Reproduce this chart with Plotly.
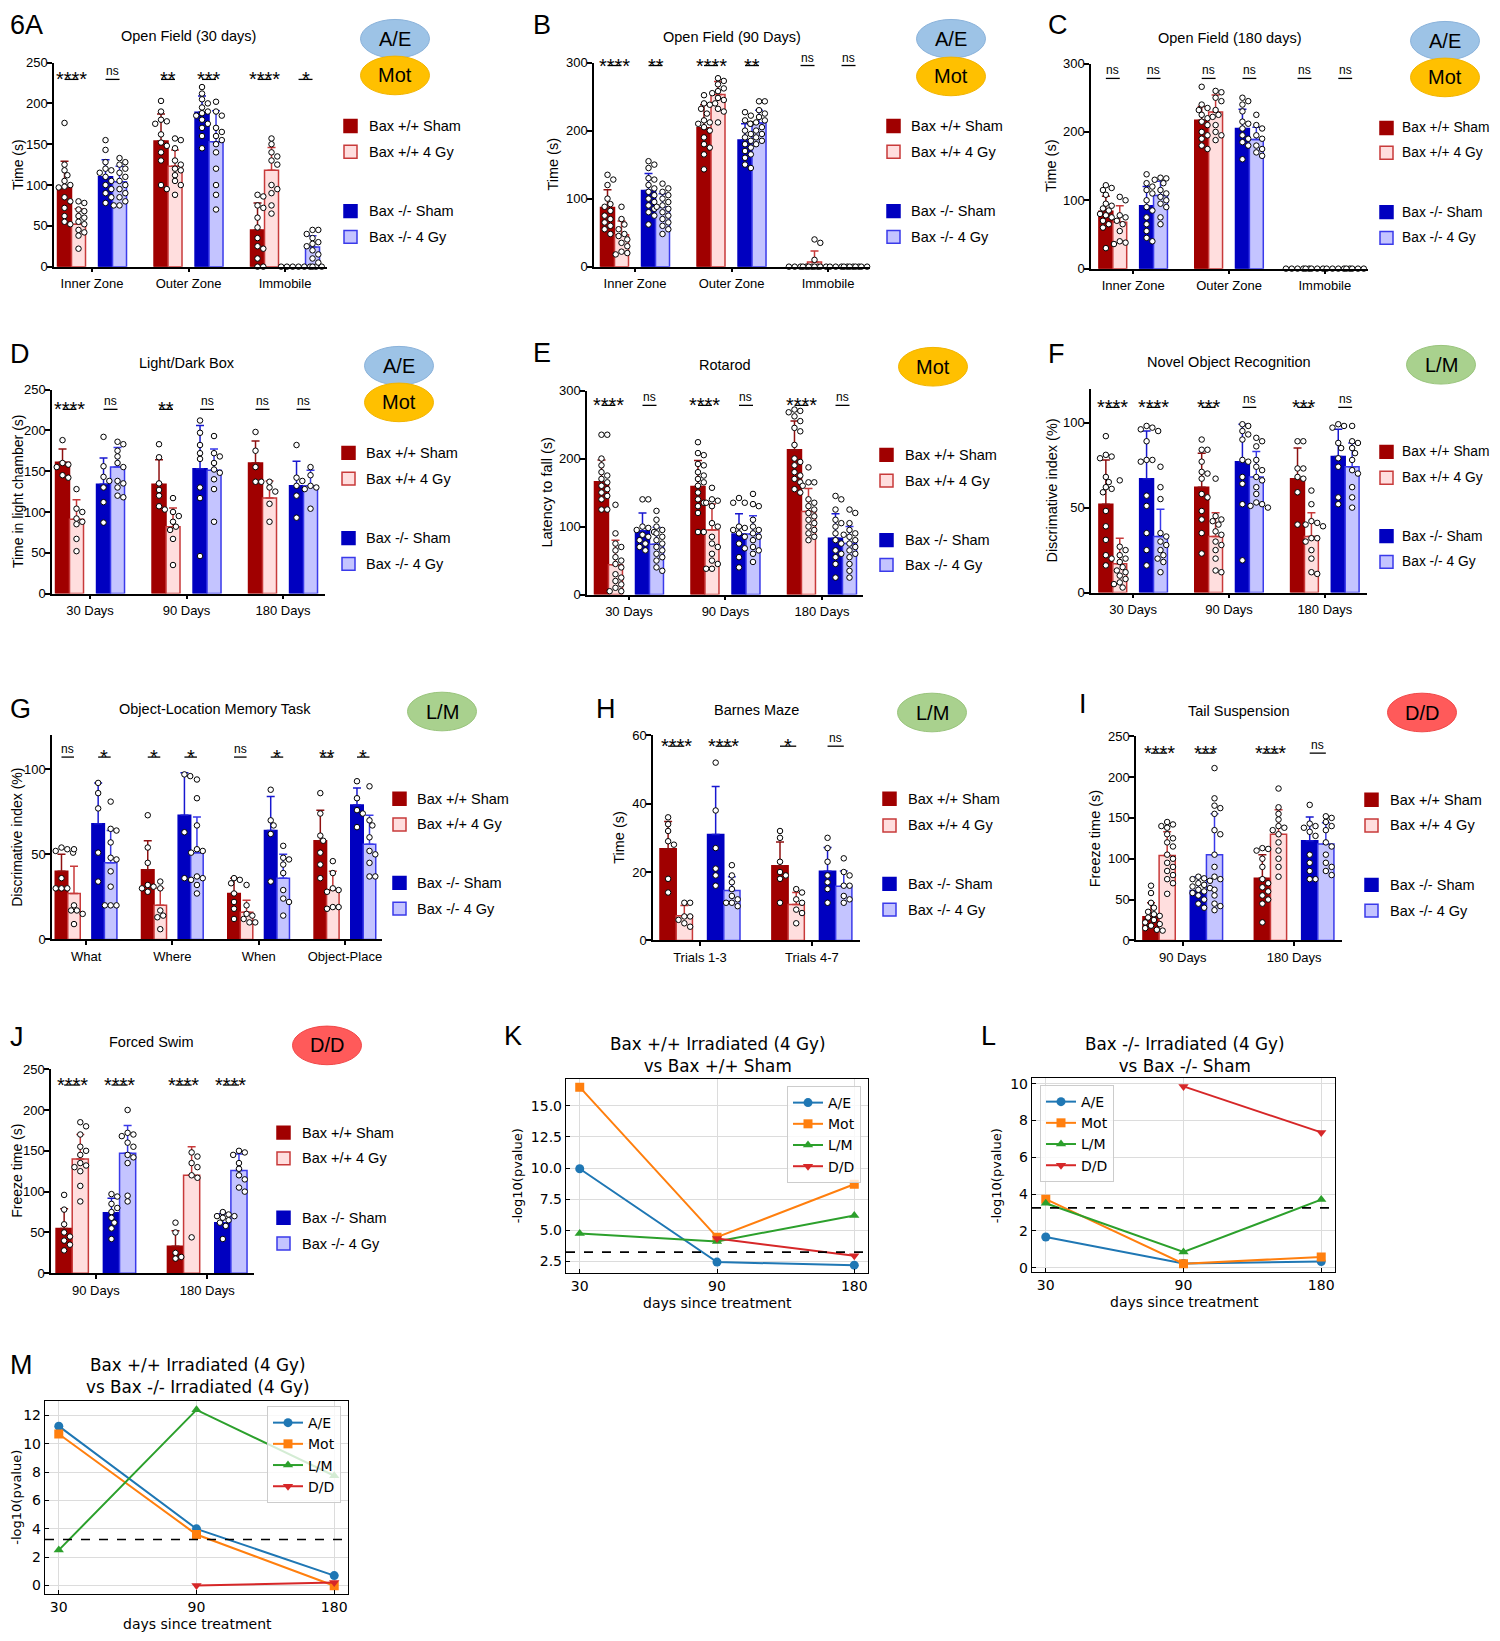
import plotly.graph_objects as go

# Reference canvas is 1500x1641; the page body keeps its default 8px margin,
# so the figure itself is 16px smaller and every position is shifted by 8px.
W, H = 1500, 1641
OX, OY = 8, 8
FW, FH = W - 2 * OX, H - 2 * OY
ARIAL = "Liberation Sans, Arial, sans-serif"
DEJAVU = "DejaVu Sans, sans-serif"

# ---------------- DATA ----------------
SERIES = ["Bax +/+ Sham", "Bax +/+ 4 Gy", "Bax -/- Sham", "Bax -/- 4 Gy"]

# A: Open Field (30 days)
A_groups = ["Inner Zone", "Outer Zone", "Immobile"]
A_wt_sham = [97, 154, 45]
A_wt_4gy = [52, 123, 118]
A_ko_sham = [110, 189, 0]
A_ko_4gy = [104, 153, 24]
A_wt_sham_sd = [32, 33, 33]
A_wt_4gy_sd = [19, 20, 28]
A_ko_sham_sd = [21, 20, 0]
A_ko_4gy_sd = [19, 38, 14]
A_wt_sham_pts = [[176, 125, 118, 112, 105, 100, 98, 97, 85, 80, 72, 62, 55, 52],
                 [203, 190, 180, 178, 175, 162, 152, 148, 140, 130, 100, 95],
                 [88, 86, 75, 72, 60, 48, 35, 25, 22, 10, 0, 0]]
A_wt_4gy_pts = [[80, 78, 70, 68, 62, 60, 55, 52, 45, 42, 38, 22],
                [157, 155, 145, 130, 125, 120, 118, 112, 105, 100, 88],
                [157, 150, 140, 135, 130, 125, 100, 95, 90, 75, 65]]
A_ko_sham_pts = [[155, 143, 128, 120, 118, 115, 110, 105, 100, 95, 90, 85, 78],
                 [220, 212, 205, 200, 195, 190, 188, 185, 180, 175, 170, 160, 145],
                 [0, 0, 0, 0, 0, 0, 0, 0]]
A_ko_4gy_pts = [[133, 128, 125, 120, 115, 110, 105, 100, 95, 90, 85, 80, 75, 75],
                [202, 190, 185, 170, 165, 160, 155, 150, 140, 120, 100, 88, 70],
                [45, 45, 40, 35, 30, 28, 25, 20, 15, 10, 5, 0]]
A_sig = ["****", "ns", "**", "***", "****", "*"]

# B: Open Field (90 Days)
B_groups = ["Inner Zone", "Outer Zone", "Immobile"]
B_wt_sham = [87, 204, 0]
B_wt_4gy = [47, 253, 7]
B_ko_sham = [112, 186, 0]
B_ko_4gy = [88, 211, 0]
B_wt_sham_sd = [26, 34, 0]
B_wt_4gy_sd = [20, 19, 16]
B_ko_sham_sd = [25, 24, 0]
B_ko_4gy_sd = [19, 19, 0]
B_wt_sham_pts = [[135, 128, 120, 100, 92, 88, 82, 75, 70, 65, 60, 55, 48],
                 [252, 240, 238, 232, 225, 215, 212, 210, 205, 200, 190, 180, 175, 165, 143],
                 [0, 0, 0, 0, 0, 0]]
B_wt_4gy_pts = [[88, 70, 62, 55, 48, 45, 40, 35, 30, 22, 20, 18],
                [277, 273, 268, 262, 258, 255, 248, 245, 240, 232, 228, 212],
                [40, 35, 10, 0, 0, 0, 0, 0]]
B_ko_sham_pts = [[155, 150, 145, 130, 128, 120, 115, 110, 105, 100, 95, 90, 85, 80, 75, 62],
                 [227, 222, 215, 210, 200, 195, 190, 185, 180, 175, 170, 165, 160, 150, 145],
                 [0, 0, 0, 0, 0, 0]]
B_ko_4gy_pts = [[122, 115, 110, 105, 100, 95, 90, 88, 85, 80, 75, 70, 65, 60, 55, 48],
                [243, 243, 230, 225, 220, 215, 212, 210, 205, 200, 195, 190, 185, 180],
                [0, 0, 0, 0, 0, 0]]
B_sig = ["****", "**", "****", "**", "ns", "ns"]

# C: Open Field (180 days)
C_groups = ["Inner Zone", "Outer Zone", "Immobile"]
C_wt_sham = [84, 217, 0]
C_wt_4gy = [68, 229, 0]
C_ko_sham = [92, 205, 0]
C_ko_4gy = [107, 189, 0]
C_wt_sham_sd = [22, 20, 0]
C_wt_4gy_sd = [24, 25, 0]
C_ko_sham_sd = [28, 28, 0]
C_ko_4gy_sd = [21, 18, 0]
C_wt_sham_pts = [[122, 118, 115, 108, 95, 92, 88, 85, 80, 78, 75, 70, 65, 60, 30],
                 [266, 240, 235, 232, 225, 220, 215, 210, 200, 195, 190, 180, 175],
                 [0, 0, 0, 0, 0]]
C_wt_4gy_pts = [[105, 100, 78, 75, 70, 65, 55, 40, 38, 36],
                [260, 258, 250, 245, 232, 225, 222, 210, 200, 195, 188],
                [0, 0, 0, 0]]
C_ko_sham_pts = [[138, 125, 120, 115, 110, 100, 90, 85, 75, 65, 55, 45, 40],
                 [250, 245, 240, 230, 215, 212, 205, 195, 190, 185, 180, 160],
                 [0, 0, 0, 0, 0]]
C_ko_4gy_pts = [[133, 132, 130, 125, 115, 110, 105, 100, 95, 90, 75, 65],
                [225, 210, 205, 195, 190, 180, 175, 170, 165],
                [0, 0, 0, 0]]
C_sig = ["ns", "ns", "ns", "ns", "ns", "ns"]

# D: Light/Dark Box
D_groups = ["30 Days", "90 Days", "180 Days"]
D_wt_sham = [161, 134, 160]
D_wt_4gy = [91, 82, 117]
D_ko_sham = [134, 153, 132]
D_ko_4gy = [155, 151, 132]
D_wt_sham_sd = [16, 30, 27]
D_wt_4gy_sd = [24, 23, 21]
D_ko_sham_sd = [32, 53, 30]
D_ko_4gy_sd = [24, 26, 19]
D_wt_sham_pts = [[188, 160, 158, 155, 145, 142], [183, 167, 135, 127, 120, 107, 103], [198, 175, 155, 137, 137]]
D_wt_4gy_pts = [[128, 104, 100, 92, 88, 85, 67, 52], [117, 100, 95, 88, 82, 78, 67, 35], [137, 130, 125, 110, 88]]
D_ko_sham_pts = [[192, 156, 143, 138, 130, 112, 87], [212, 197, 182, 172, 165, 130, 117, 46], [182, 142, 138, 132, 120, 93]]
D_ko_4gy_pts = [[186, 183, 175, 168, 160, 155, 138, 135, 130, 120, 118],
                [193, 172, 168, 160, 152, 148, 140, 128, 88], [155, 145, 132, 130, 128, 104]]
D_sig = ["****", "ns", "**", "ns", "ns", "ns"]

# E: Rotarod
E_groups = ["30 Days", "90 Days", "180 Days"]
E_wt_sham = [166, 159, 213]
E_wt_4gy = [44, 95, 122]
E_ko_sham = [94, 89, 83]
E_ko_4gy = [74, 89, 75]
E_wt_sham_sd = [32, 38, 42]
E_wt_4gy_sd = [36, 38, 34]
E_ko_sham_sd = [26, 30, 36]
E_ko_4gy_sd = [25, 27, 25]
E_wt_sham_pts = [[235, 235, 200, 190, 180, 175, 170, 165, 160, 155, 150, 145, 140, 125, 125],
                 [224, 208, 205, 192, 190, 180, 175, 170, 165, 160, 150, 140, 135, 130, 120, 92, 92],
                 [272, 270, 268, 262, 255, 245, 240, 220, 200, 195, 190, 180, 175, 170, 165, 155, 150]]
E_wt_4gy_pts = [[132, 90, 75, 70, 65, 55, 50, 45, 40, 30, 25, 20, 15, 10, 5, 5],
                [157, 140, 138, 135, 130, 105, 100, 85, 75, 70, 60, 50, 45, 38, 38],
                [187, 165, 165, 160, 140, 135, 130, 125, 120, 115, 110, 105, 100, 95, 90, 85, 80]]
E_ko_sham_pts = [[140, 140, 100, 98, 95, 92, 88, 85, 80, 75, 70, 65],
                 [142, 135, 135, 100, 98, 95, 90, 85, 75, 68, 55, 40],
                 [145, 140, 125, 110, 105, 100, 90, 80, 75, 65, 60, 55, 45, 25]]
E_ko_4gy_pts = [[123, 110, 100, 95, 90, 85, 80, 75, 70, 65, 60, 55, 50, 40, 35],
                [148, 133, 130, 110, 100, 95, 90, 85, 80, 70, 65, 60, 48],
                [125, 120, 105, 95, 90, 88, 85, 80, 75, 70, 65, 60, 55, 45, 35, 25]]
E_sig = ["****", "ns", "****", "ns", "****", "ns"]

# F: Novel Object Recognition
F_groups = ["30 Days", "90 Days", "180 Days"]
F_wt_sham = [52, 62, 67]
F_wt_4gy = [17, 33, 33]
F_ko_sham = [67, 77, 80]
F_ko_4gy = [33, 68, 74]
F_wt_sham_sd = [26, 20, 18]
F_wt_4gy_sd = [15, 14, 14]
F_ko_sham_sd = [28, 22, 16]
F_ko_4gy_sd = [16, 15, 14]
F_wt_sham_pts = [[92, 81, 80, 79, 68, 65, 62, 61, 59, 48, 39, 31, 22, 20, 16],
                 [90, 84, 84, 77, 71, 70, 67, 58, 56, 48, 43, 35, 23],
                 [89, 89, 73, 73, 68, 67, 59, 40]]
F_wt_4gy_pts = [[66, 27, 25, 22, 20, 18, 15, 13, 12, 10, 8, 6, 5, 3],
                [67, 45, 43, 42, 40, 36, 34, 30, 28, 25, 20, 13, 12],
                [60, 52, 42, 41, 40, 39, 32, 32, 30, 25, 20, 12, 11]]
F_ko_sham_pts = [[98, 97, 96, 95, 89, 78, 78, 77, 57, 51, 35, 25, 16],
                 [99, 98, 95, 93, 90, 78, 77, 68, 64, 52, 19],
                 [99, 98, 97, 88, 85, 79, 74, 56, 52]]
F_ko_4gy_pts = [[74, 62, 55, 35, 33, 30, 28, 25, 22, 20, 18, 12],
                [91, 89, 86, 78, 74, 72, 68, 66, 62, 58, 53, 52, 51, 50],
                [98, 89, 88, 85, 82, 78, 72, 70, 62, 56, 50]]
F_sig = ["****", "****", "***", "ns", "***", "ns"]

# G: Object-Location Memory Task
G_groups = ["What", "Where", "When", "Object-Place"]
G_wt_sham = [40, 41, 27, 58]
G_wt_4gy = [27, 20, 16, 29]
G_ko_sham = [68, 73, 64, 79]
G_ko_4gy = [45, 51, 36, 56]
G_wt_sham_sd = [10, 17, 9, 18]
G_wt_4gy_sd = [16, 10, 7, 11]
G_ko_sham_sd = [24, 25, 20, 10]
G_ko_4gy_sd = [19, 21, 14, 17]
G_wt_sham_pts = [[54, 53, 52, 51, 51, 36, 30, 30, 30], [73, 54, 45, 32, 31, 30, 28],
                 [36, 35, 33, 27, 22, 18, 12], [86, 74, 61, 58, 51, 44, 36]]
G_wt_4gy_pts = [[53, 20, 17, 17, 15, 9], [34, 30, 17, 14, 13, 6],
                [32, 20, 15, 14, 12, 10, 10], [46, 39, 30, 29, 28, 19, 19, 18]]
G_ko_sham_pts = [[92, 86, 77, 51, 34], [97, 96, 63, 36], [88, 70, 67, 62, 34], [93, 83, 76, 74, 66]]
G_ko_4gy_pts = [[81, 65, 64, 57, 48, 47, 40, 31, 20, 20, 20], [94, 83, 67, 53, 52, 51, 37, 36, 35, 32, 27],
                [55, 48, 47, 44, 39, 29, 24, 22, 14], [90, 70, 67, 60, 52, 50, 45, 37, 37]]
G_sig = ["ns", "*", "*", "*", "ns", "*", "**", "*"]

# H: Barnes Maze
H_groups = ["Trials 1-3", "Trials 4-7"]
H_wt_sham = [26.8, 21.8]
H_wt_4gy = [7.2, 10.5]
H_ko_sham = [31, 20.2]
H_ko_4gy = [14.6, 15.8]
H_wt_sham_sd = [8, 7]
H_wt_4gy_sd = [3, 3.5]
H_ko_sham_sd = [14, 7]
H_ko_4gy_sd = [4, 4.5]
H_wt_sham_pts = [[36, 34, 32, 29, 28, 18, 14], [32, 30, 23, 20, 19, 18, 11]]
H_wt_4gy_pts = [[11, 11, 7, 7, 6, 5, 4], [15, 14, 12, 11, 9, 8, 5]]
H_ko_sham_pts = [[52, 38, 27, 21, 19, 16], [30, 27, 23, 19, 17, 15, 11]]
H_ko_4gy_pts = [[22, 19, 17, 15, 13, 12, 11, 11, 10], [24, 20, 19, 16, 16, 13, 12, 11]]
H_sig = ["****", "****", "*", "ns"]

# I: Tail Suspension
I_groups = ["90 Days", "180 Days"]
I_wt_sham = [29, 76]
I_wt_4gy = [104, 130]
I_ko_sham = [61, 122]
I_ko_4gy = [105, 118]
I_wt_sham_sd = [17, 29]
I_wt_4gy_sd = [29, 30]
I_ko_sham_sd = [17, 29]
I_ko_4gy_sd = [50, 26]
I_wt_sham_pts = [[67, 58, 46, 40, 35, 32, 30, 28, 25, 22, 20, 18, 15, 13, 12],
                 [113, 112, 110, 100, 90, 75, 70, 65, 60, 55, 50, 45, 22]]
I_wt_4gy_pts = [[145, 142, 140, 138, 130, 125, 120, 115, 105, 100, 95, 90, 85, 80, 75, 70, 57],
                [186, 163, 155, 148, 140, 138, 135, 130, 120, 110, 100, 90, 78]]
I_ko_sham_pts = [[78, 76, 75, 73, 70, 68, 66, 64, 62, 60, 58, 55, 50, 45, 40],
                 [166, 143, 140, 138, 133, 128, 105, 95, 85, 75, 75]]
I_ko_4gy_pts = [[211, 174, 165, 162, 155, 135, 130, 105, 90, 78, 75, 62, 55, 45, 42, 37],
                [152, 150, 145, 140, 135, 120, 115, 105, 95, 90, 85, 80]]
I_sig = ["****", "***", "****", "ns"]

# J: Forced Swim
J_groups = ["90 Days", "180 Days"]
J_wt_sham = [55, 33]
J_wt_4gy = [140, 120]
J_ko_sham = [74, 62]
J_ko_4gy = [147, 126]
J_wt_sham_sd = [24, 19]
J_wt_4gy_sd = [30, 35]
J_ko_sham_sd = [18, 11]
J_ko_4gy_sd = [34, 20]
J_wt_sham_pts = [[96, 78, 60, 50, 45, 40, 35, 28], [62, 50, 25, 20, 18]]
J_wt_4gy_pts = [[185, 180, 170, 155, 150, 145, 135, 132, 130, 125, 107, 88], [148, 143, 135, 130, 120, 117, 44]]
J_ko_sham_pts = [[97, 94, 85, 80, 75, 68, 62, 55, 42], [75, 72, 70, 70, 68, 65, 62, 58, 42]]
J_ko_4gy_pts = [[200, 172, 170, 168, 160, 155, 145, 142, 135, 95, 88], [150, 148, 145, 135, 128, 120, 115, 105, 100]]
J_sig = ["****", "****", "****", "****"]

# K, L, M: -log10(pvalue) summaries
DAYS = ["30", "90", "180"]
CATS = ["A/E", "Mot", "L/M", "D/D"]
K_ae = [9.95, 2.45, 2.2]
K_mot = [16.5, 4.45, 8.7]
K_lm = [4.75, 4.1, 6.2]
K_dd = [None, 4.35, 2.95]
L_ae = [1.67, 0.23, 0.33]
L_mot = [3.72, 0.22, 0.58]
L_lm = [3.5, 0.85, 3.7]
L_dd = [None, 9.85, 7.35]
M_ae = [11.25, 4.0, 0.7]
M_mot = [10.7, 3.6, -0.02]
M_lm = [2.5, 12.4, 7.75]
M_dd = [None, 0.0, 0.22]
SIG_THRESHOLD = 3.25

# ---------------- STYLE ----------------
FILL = ["#A00000", "#FFDEDE", "#0000C0", "#C4C4FF"]
EDGE = ["#A00000", "#C83A3A", "#0000C0", "#3A3AEA"]
ERRC = ["#8E1010", "#C83A3A", "#1818D0", "#3A3AEA"]
OFFS = [-0.285, -0.14, 0.14, 0.285]
BW = 0.145
TAG_COLORS = {"A/E": ("#9DC3E6", "#8AB2DA"), "Mot": ("#FFC000", "#F2B400"),
              "L/M": ("#A9D18E", "#99C47C"), "D/D": ("#FF5A5A", "#F04848")}
LINE_COLORS = ["#1f77b4", "#ff7f0e", "#2ca02c", "#d62728"]
SYMBOLS = ["circle", "square", "triangle-up", "triangle-down"]

fig = go.Figure()
layout = {}
shapes = []
annots = []
axis_n = [0]


def px(p):
    return (p - OX) / FW


def py(p):
    return 1 - (p - OY) / FH


def new_axes(box):
    axis_n[0] += 1
    n = axis_n[0]
    s = "" if n == 1 else str(n)
    x0, y0, x1, y1 = box
    return ("xaxis" + s, "yaxis" + s, "x" + s, "y" + s,
            [px(x0), px(x1)], [py(y1), py(y0)])


def swarm(vals, pxu_y, d=5.8):
    placed = []
    offs = [0.0] * len(vals)
    order = sorted(range(len(vals)), key=lambda i: -vals[i])
    cands = [0.0]
    for j in range(1, 40):
        cands += [j * d * 0.5, -j * d * 0.5]
    for i in order:
        yv = vals[i] * pxu_y
        for c in cands:
            if all((c - a) ** 2 + (yv - b) ** 2 >= (d * 0.97) ** 2 for a, b in placed):
                offs[i] = c
                placed.append((c, yv))
                break
    return offs


def text(x, y, t, size, family=ARIAL, xanchor="center", yanchor="middle", angle=0, **kw):
    annots.append(dict(x=px(x), y=py(y), xref="paper", yref="paper", text=t, showarrow=False,
                       xanchor=xanchor, yanchor=yanchor, textangle=angle,
                       font=dict(family=family, size=size, color="black"), **kw))


def bar_panel(groups, means, sds, pts, sig, box, xrange, yrange, yticks, title, title_xy,
              ylabel, ylabel_x, letter, letter_xy, sig_px, leg, tags, leg_font=14.5, ylab_font=14.5):
    xa, ya, xr, yr, xd, yd = new_axes(box)
    ng = len(groups)
    layout[xa] = dict(domain=xd, range=xrange, anchor=yr, showline=True, linecolor="black",
                      linewidth=1.5, ticks="outside", ticklen=4, tickwidth=1.5, tickcolor="black",
                      tickvals=list(range(ng)), ticktext=groups, showgrid=False, zeroline=False,
                      tickfont=dict(family=ARIAL, size=13, color="black"))
    layout[ya] = dict(domain=yd, range=yrange, anchor=xr, showline=True, linecolor="black",
                      linewidth=1.5, ticks="outside", ticklen=5, tickwidth=1.5, tickcolor="black",
                      tickvals=yticks, showgrid=False, zeroline=False, ticklabelstandoff=-3,
                      tickfont=dict(family=ARIAL, size=13, color="black"))
    x0, y0, x1, y1 = box
    pxu_x = (x1 - x0) / (xrange[1] - xrange[0])
    pxu_y = (y1 - y0) / (yrange[1] - yrange[0])
    for s in range(4):
        fig.add_trace(go.Bar(
            x=[g + OFFS[s] for g in range(ng)], y=means[s], width=BW, xaxis=xr, yaxis=yr,
            marker=dict(color=FILL[s], line=dict(color=EDGE[s], width=1.5)),
            error_y=dict(type="data", symmetric=False, array=sds[s], arrayminus=[0] * ng,
                         color=ERRC[s], thickness=1.5, width=4),
            showlegend=False, hoverinfo="skip", name=SERIES[s]))
    for s in range(4):
        xs, ys = [], []
        for g, vals in enumerate(pts[s]):
            offs = swarm(vals, pxu_y)
            xs += [g + OFFS[s] + o / pxu_x for o in offs]
            ys += list(vals)
        fig.add_trace(go.Scatter(
            x=xs, y=ys, mode="markers", xaxis=xr, yaxis=yr, cliponaxis=False,
            marker=dict(size=5.5, color="white", line=dict(color="black", width=1)),
            showlegend=False, hoverinfo="skip"))
    # significance
    for g in range(ng):
        for p, (a, b) in enumerate([(0, 1), (2, 3)]):
            lab = sig[2 * g + p]
            xa_, xb_ = g + OFFS[a], g + OFFS[b]
            shapes.append(dict(type="line", xref=xr, yref="paper", x0=xa_, x1=xb_,
                               y0=py(sig_px), y1=py(sig_px), line=dict(color="black", width=1.3)))
            star = lab != "ns"
            annots.append(dict(x=(xa_ + xb_) / 2, y=py(sig_px), xref=xr, yref="paper", text=lab,
                               showarrow=False, xanchor="center", yanchor="bottom",
                               yshift=-13 if star else -1,
                               font=dict(family=ARIAL, size=20 if star else 12, color="black")))
    text(title_xy[0], title_xy[1], title, 14.5)
    text(ylabel_x, (y0 + y1) / 2, ylabel, ylab_font, angle=-90)
    text(letter_xy[0], letter_xy[1], letter, 27, xanchor="left")
    sqx, tx, lys = leg
    for s in range(4):
        shapes.append(dict(type="rect", xref="paper", yref="paper", x0=px(sqx), x1=px(sqx + 13),
                           y0=py(lys[s] + 6.5), y1=py(lys[s] - 6.5), fillcolor=FILL[s],
                           line=dict(color=EDGE[s], width=1.5)))
        text(tx, lys[s], SERIES[s], leg_font, xanchor="left")
    for name, cx, cy in tags:
        f, e = TAG_COLORS[name]
        shapes.append(dict(type="circle", xref="paper", yref="paper", x0=px(cx - 34.5),
                           x1=px(cx + 34.5), y0=py(cy + 19.5), y1=py(cy - 19.5), fillcolor=f,
                           line=dict(color=e, width=1)))
        text(cx, cy, name, 20)


def line_panel(series, box, yrange, yticks, ytext, title, title_xy, xlabel_xy, ylabel_x,
               letter, letter_xy, legend_name, legend_cfg):
    xa, ya, xr, yr, xd, yd = new_axes(box)
    common = dict(showline=True, mirror=True, linecolor="black", linewidth=1.4, ticks="inside",
                  ticklen=4, tickwidth=1.2, tickcolor="black", showgrid=True, gridcolor="#dcdcdc",
                  gridwidth=1.2, zeroline=False, tickfont=dict(family=DEJAVU, size=14, color="black"))
    layout[xa] = dict(domain=xd, range=[-0.1, len(DAYS) - 0.9], anchor=yr,
                      tickvals=list(range(len(DAYS))), ticktext=DAYS, **common)
    layout[ya] = dict(domain=yd, range=yrange, anchor=xr, tickvals=yticks, ticktext=ytext, **common)
    for i, vals in enumerate(series):
        fig.add_trace(go.Scatter(
            x=list(range(len(DAYS))), y=vals, mode="lines+markers", name=CATS[i],
            xaxis=xr, yaxis=yr, legend=legend_name, connectgaps=False,
            line=dict(color=LINE_COLORS[i], width=2),
            marker=dict(symbol=SYMBOLS[i], size=9, color=LINE_COLORS[i]),
            hoverinfo="skip"))
    shapes.append(dict(type="line", xref=xr + " domain", yref=yr, x0=0, x1=1,
                       y0=SIG_THRESHOLD, y1=SIG_THRESHOLD, line=dict(color="black", width=1.6, dash="dash")))
    text(title_xy[0], title_xy[1], title, 16.8, family=DEJAVU)
    text(xlabel_xy[0], xlabel_xy[1], "days since treatment", 14, family=DEJAVU)
    text(ylabel_x, (box[1] + box[3]) / 2, "-log10(pvalue)", 13, family=DEJAVU, angle=-90)
    text(letter_xy[0], letter_xy[1], letter, 27, xanchor="left")
    layout[legend_name] = dict(bgcolor="rgba(255,255,255,0.8)", bordercolor="#cccccc", borderwidth=1,
                               font=dict(family=DEJAVU, size=14, color="black"), tracegroupgap=0,
                               **legend_cfg)


# ---------------- PANELS ----------------
bar_panel(A_groups, [A_wt_sham, A_wt_4gy, A_ko_sham, A_ko_4gy],
          [A_wt_sham_sd, A_wt_4gy_sd, A_ko_sham_sd, A_ko_4gy_sd],
          [A_wt_sham_pts, A_wt_4gy_pts, A_ko_sham_pts, A_ko_4gy_pts], A_sig,
          (54, 56, 327, 262), [-0.394, 2.435], [0, 250], [0, 50, 100, 150, 200, 250],
          "Open Field (30 days)", (188, 29), "Time (s)", 17.5, "6A", (8, 18), 73,
          (344, 367, [120, 146, 206, 232]), [("A/E", 395, 32), ("Mot", 395, 69)], ylab_font=14)

bar_panel(B_groups, [B_wt_sham, B_wt_4gy, B_ko_sham, B_ko_4gy],
          [B_wt_sham_sd, B_wt_4gy_sd, B_ko_sham_sd, B_ko_4gy_sd],
          [B_wt_sham_pts, B_wt_4gy_pts, B_ko_sham_pts, B_ko_4gy_pts], B_sig,
          (594, 56, 870, 262), [-0.425, 2.435], [0, 300], [0, 100, 200, 300],
          "Open Field (90 Days)", (732, 30), "Time (s)", 553, "B", (531, 18), 59,
          (887, 909, [120, 146, 206, 232]), [("A/E", 951, 32), ("Mot", 951, 70)])

bar_panel(C_groups, [C_wt_sham, C_wt_4gy, C_ko_sham, C_ko_4gy],
          [C_wt_sham_sd, C_wt_4gy_sd, C_ko_sham_sd, C_ko_4gy_sd],
          [C_wt_sham_pts, C_wt_4gy_pts, C_ko_sham_pts, C_ko_4gy_pts], C_sig,
          (1091, 57, 1368, 264), [-0.44, 2.45], [0, 300], [0, 100, 200, 300],
          "Open Field (180 days)", (1229, 31), "Time (s)", 1051, "C", (1046, 18), 72,
          (1380, 1400, [122, 147, 207, 233]), [("A/E", 1445, 34), ("Mot", 1445, 71)], leg_font=13.8)

bar_panel(D_groups, [D_wt_sham, D_wt_4gy, D_ko_sham, D_ko_4gy],
          [D_wt_sham_sd, D_wt_4gy_sd, D_ko_sham_sd, D_ko_4gy_sd],
          [D_wt_sham_pts, D_wt_4gy_pts, D_ko_sham_pts, D_ko_4gy_pts], D_sig,
          (52, 386, 325, 592), [-0.394, 2.435], [0, 250], [0, 50, 100, 150, 200, 250],
          "Light/Dark Box", (187, 359), "Time in light chamber (s)", 17.5, "D", (8, 350), 406,
          (342, 364, [450, 476, 536, 562]), [("A/E", 399, 362), ("Mot", 399, 399)], ylab_font=14)

bar_panel(E_groups, [E_wt_sham, E_wt_4gy, E_ko_sham, E_ko_4gy],
          [E_wt_sham_sd, E_wt_4gy_sd, E_ko_sham_sd, E_ko_4gy_sd],
          [E_wt_sham_pts, E_wt_4gy_pts, E_ko_sham_pts, E_ko_4gy_pts], E_sig,
          (587, 387, 863, 593), [-0.435, 2.425], [0, 300], [0, 100, 200, 300],
          "Rotarod", (725, 361), "Latency to fall (s)", 547, "E", (531, 349), 402,
          (880, 903, [452, 478, 538, 563]), [("Mot", 933, 363)])

bar_panel(F_groups, [F_wt_sham, F_wt_4gy, F_ko_sham, F_ko_4gy],
          [F_wt_sham_sd, F_wt_4gy_sd, F_ko_sham_sd, F_ko_4gy_sd],
          [F_wt_sham_pts, F_wt_4gy_pts, F_ko_sham_pts, F_ko_4gy_pts], F_sig,
          (1091, 385, 1367, 591), [-0.44, 2.44], [0, 120], [0, 50, 100],
          "Novel Object Recognition", (1229, 358), "Discrimative index (%)", 1052, "F", (1046, 350), 404,
          (1380, 1400, [449, 475, 534, 560]), [("L/M", 1441, 361)], leg_font=13.8)

bar_panel(G_groups, [G_wt_sham, G_wt_4gy, G_ko_sham, G_ko_4gy],
          [G_wt_sham_sd, G_wt_4gy_sd, G_ko_sham_sd, G_ko_4gy_sd],
          [G_wt_sham_pts, G_wt_4gy_pts, G_ko_sham_pts, G_ko_4gy_pts], G_sig,
          (52, 735, 382, 941), [-0.395, 3.43], [0, 120], [0, 50, 100],
          "Object-Location Memory Task", (215, 708), "Discrimative index (%)", 17.5, "G", (8, 708), 757,
          (393, 415, [799, 825, 884, 910]), [("L/M", 442, 711)], ylab_font=14)

bar_panel(H_groups, [H_wt_sham, H_wt_4gy, H_ko_sham, H_ko_4gy],
          [H_wt_sham_sd, H_wt_4gy_sd, H_ko_sham_sd, H_ko_4gy_sd],
          [H_wt_sham_pts, H_wt_4gy_pts, H_ko_sham_pts, H_ko_4gy_pts], H_sig,
          (653, 735, 860, 942), [-0.42, 1.43], [0, 60], [0, 20, 40, 60],
          "Barnes Maze", (756, 709), "Time (s)", 619, "H", (594, 708), 746,
          (883, 906, [799, 826, 885, 911]), [("L/M", 932, 712)])

bar_panel(I_groups, [I_wt_sham, I_wt_4gy, I_ko_sham, I_ko_4gy],
          [I_wt_sham_sd, I_wt_4gy_sd, I_ko_sham_sd, I_ko_4gy_sd],
          [I_wt_sham_pts, I_wt_4gy_pts, I_ko_sham_pts, I_ko_4gy_pts], I_sig,
          (1136, 736, 1342, 942), [-0.42, 1.43], [0, 250], [0, 50, 100, 150, 200, 250],
          "Tail Suspension", (1239, 710), "Freeze time (s)", 1095, "I", (1077, 703), 753,
          (1365, 1388, [800, 826, 886, 912]), [("D/D", 1422, 712)])

bar_panel(J_groups, [J_wt_sham, J_wt_4gy, J_ko_sham, J_ko_4gy],
          [J_wt_sham_sd, J_wt_4gy_sd, J_ko_sham_sd, J_ko_4gy_sd],
          [J_wt_sham_pts, J_wt_4gy_pts, J_ko_sham_pts, J_ko_4gy_pts], J_sig,
          (51, 1072, 254, 1278), [-0.403, 1.42], [0, 250], [0, 50, 100, 150, 200, 250],
          "Forced Swim", (151, 1045), "Freeze time (s)", 17.5, "J", (8, 1040), 1088,
          (277, 300, [1136, 1162, 1222, 1248]), [("D/D", 327, 1048)], ylab_font=14)

line_panel([K_ae, K_mot, K_lm, K_dd], (566, 1082, 868, 1278), [1.55, 17.15],
           [2.5, 5, 7.5, 10, 12.5, 15], ["2.5", "5.0", "7.5", "10.0", "12.5", "15.0"],
           "Bax +/+ Irradiated (4 Gy)<br>vs Bax +/+ Sham", (717, 1058), (717, 1308), 517,
           "K", (502, 1039), "legend",
           dict(x=px(861), y=py(1089), xanchor="right", yanchor="top"))

line_panel([L_ae, L_mot, L_lm, L_dd], (1032, 1081, 1335, 1277), [-0.25, 10.3],
           [0, 2, 4, 6, 8, 10], ["0", "2", "4", "6", "8", "10"],
           "Bax -/- Irradiated (4 Gy)<br>vs Bax -/- Sham", (1184, 1058), (1184, 1307), 996,
           "L", (979, 1039), "legend2",
           dict(x=px(1040), y=py(1088), xanchor="left", yanchor="top"))

line_panel([M_ae, M_mot, M_lm, M_dd], (45, 1407, 348, 1602), [-0.62, 13.02],
           [0, 2, 4, 6, 8, 10, 12], ["0", "2", "4", "6", "8", "10", "12"],
           "Bax +/+ Irradiated (4 Gy)<br>vs Bax -/- Irradiated (4 Gy)", (197, 1382), (197, 1632), 17,
           "M", (8, 1371), "legend3",
           dict(x=px(341), y=py(1412), xanchor="right", yanchor="top"))

fig.update_layout(
    width=FW, height=FH, autosize=False, margin=dict(l=0, r=0, t=0, b=0),
    paper_bgcolor="white", plot_bgcolor="white", barmode="overlay", hovermode=False,
    font=dict(family=ARIAL, color="black"), showlegend=True,
    shapes=shapes, annotations=annots, **layout)

fig.write_html("out.html", include_plotlyjs=True, full_html=True,
               config={"displayModeBar": False})
